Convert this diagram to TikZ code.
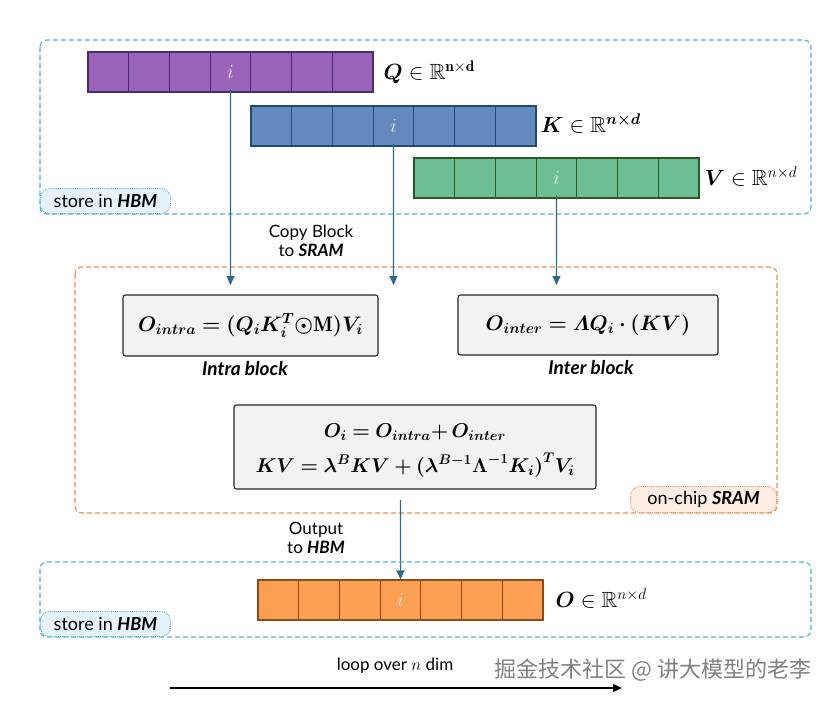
\documentclass[tikz,border=0pt]{standalone}
\usepackage{fix-cm}
\usepackage{amsmath,amssymb,bm}
\usepackage{fontspec}
\setsansfont{Lato}
\newfontfamily\cjkfont{Noto Sans CJK SC}
\usetikzlibrary{arrows.meta,calc}
\definecolor{qfill}{HTML}{9A64BA}
\definecolor{qline}{HTML}{4A2A6A}
\definecolor{kfill}{HTML}{6489BE}
\definecolor{kline}{HTML}{1F4A78}
\definecolor{vfill}{HTML}{6EBE95}
\definecolor{vline}{HTML}{2A5A22}
\definecolor{ofill}{HTML}{FBA052}
\definecolor{oline}{HTML}{8E4A14}
\definecolor{hbmc}{HTML}{4DAFCF}
\definecolor{sramc}{HTML}{EE8A4E}
\definecolor{arrc}{HTML}{2B6A8C}
\definecolor{hbmfill}{HTML}{E6F2F9}
\definecolor{sramfill}{HTML}{FDEDE2}
\definecolor{boxfill}{HTML}{F2F2F2}
\begin{document}
\begin{tikzpicture}[x=1pt,y=-1pt,
  cell/.style={draw, line width=1.2pt, minimum width=40.7pt, minimum height=40pt, inner sep=0pt, text=white!92!black, font=\fontsize{20}{20}\selectfont},
  hbm/.style={draw=hbmc, dashed, dash pattern=on 5pt off 3pt, line width=1.1pt, rounded corners=7pt},
  sram/.style={draw=sramc, dashed, dash pattern=on 5pt off 3pt, line width=1.1pt, rounded corners=7pt},
  hbmtag/.style={draw=hbmc, densely dotted, fill=hbmfill, rounded corners=9pt, line width=0.9pt, inner sep=0pt, minimum width=130pt, minimum height=25pt, font=\sffamily\fontsize{18}{18}\selectfont},
  sramtag/.style={draw=sramc, densely dotted, fill=sramfill, rounded corners=9pt, line width=0.9pt, inner sep=0pt, minimum width=146pt, minimum height=26pt, font=\sffamily\fontsize{18}{18}\selectfont},
  fbox/.style={draw=black!85, fill=boxfill, line width=1.1pt, rounded corners=2.5pt, inner sep=0pt, font=\fontsize{21}{26}\selectfont},
  arr/.style={draw=arrc, line width=1.3pt, -{Triangle[length=9pt,width=8pt]}},
  lab/.style={font=\sffamily\fontsize{17}{19}\selectfont, align=center},
  blab/.style={font=\sffamily\bfseries\itshape\fontsize{19}{20}\selectfont},
  mlab/.style={anchor=west, font=\fontsize{22}{24}\selectfont}]
\useasboundingbox (0,0) rectangle (836,704);
% HBM top region
\draw[hbm] (40,40) rectangle (811,214);
\node[hbmtag, anchor=south west] (tagtop) at (40,214) {store in \textbf{\textit{HBM}}};
% Q K V bars
\foreach \k in {0,...,6} {
  \node[cell, fill=qfill, draw=qline] (q\k) at ({88+40.7*(\k+0.5)},72) {};
  \node[cell, fill=kfill, draw=kline] (k\k) at ({251+40.7*(\k+0.5)},126) {};
  \node[cell, fill=vfill, draw=vline] (v\k) at ({414+40.7*(\k+0.5)},178) {};
  \node[cell, fill=ofill, draw=oline] (o\k) at ({258+40.7*(\k+0.5)},600) {};
}
\node[cell, fill=qfill, draw=qline] (qi) at (q3) {$i$};
\node[cell, fill=kfill, draw=kline] (ki) at (k3) {$i$};
\node[cell, fill=vfill, draw=vline] (vi) at (v3) {$i$};
\node[cell, fill=ofill, draw=oline] (oi) at (o3) {$i$};
\node[mlab] (ql) at (380,72) {$\bm{Q}\in\mathbb{R}^{\mathbf{n\times d}}$};
\node[mlab] (kl) at (537,124) {$\bm{K}\in\mathbb{R}^{\bm{n\times d}}$};
\node[mlab] (vl) at (701,177) {$\bm{V}\in\mathbb{R}^{n\times d}$};
% SRAM region
\draw[sram] (75,267) rectangle (777,513);
\node[sramtag, anchor=south east] (tagsram) at (777,513) {on-chip \textbf{\textit{SRAM}}};
\node[fbox, minimum width=255pt, minimum height=61pt] (intra) at (250.5,325.5)
  {$\bm{O_{intra} = (Q_i K_i^T{\odot}\mathrm{M}) V_i}$};
\node[blab] (intral) at (245,369) {Intra block};
\node[fbox, minimum width=260pt, minimum height=60pt] (inter) at (588,325)
  {$\bm{O_{inter} = \varLambda Q_i \cdot (KV)}$};
\node[blab] (interl) at (591,368) {Inter block};
\node[fbox, minimum width=362pt, minimum height=84pt] (comb) at (415,447) {};
\node[font=\fontsize{20}{24}\selectfont] (c1) at (415,432) {$\bm{O_i = O_{intra}{+}\,O_{inter}}$};
\node[font=\fontsize{20}{24}\selectfont] (c2) at (415,465) {$\bm{KV = \lambda^B KV + (\lambda^{B-1}\Lambda^{-1}K_i)^T V_i}$};
% arrows into SRAM
\coordinate (qend) at (230.5,285);
\coordinate (kend) at (393.5,285);
\coordinate (vend) at (556.5,285);
\draw[arr] ([yshift=3pt]qi.south) -- (qend);
\draw[arr] ([yshift=3pt]ki.south) -- (kend);
\draw[arr] ([yshift=3pt]vi.south) -- (vend);
\node[lab] (copy) at (311,241) {Copy Block\\to \textbf{\textit{SRAM}}};
% output
\coordinate (ostart) at (400.5,500);
\draw[arr] (ostart) -- (oi.north);
\node[lab] (outl) at (316,538) {Output\\to \textbf{\textit{HBM}}};
% HBM bottom region
\draw[hbm] (40,562) rectangle (811,637);
\node[hbmtag, anchor=south west] (tagbot) at (40,637) {store in \textbf{\textit{HBM}}};
\node[mlab] (ol) at (552,599) {$\bm{O}\in\mathbb{R}^{n\times d}$};
% loop arrow
\node[lab] (loopl) at (395,666) {loop over $n$ dim};
\coordinate (la) at (170,688);
\coordinate (lb) at (622,688);
\draw[line width=1.3pt, -{Triangle[length=9pt,width=8pt]}] (la) -- (lb);
\node[font=\cjkfont\fontsize{22}{22}\selectfont, text=black!50] (wm) at (653,670) {掘金技术社区 @ 讲大模型的老李};
\end{tikzpicture}
\end{document}
